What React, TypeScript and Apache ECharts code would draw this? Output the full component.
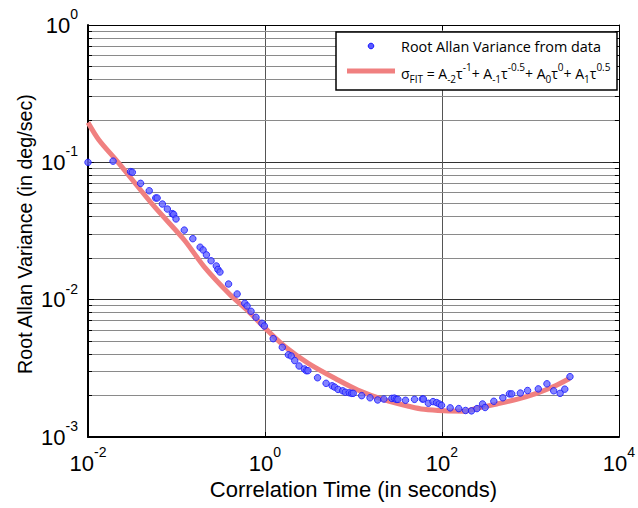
import { useEffect, useRef } from 'react';
import * as echarts from 'echarts';

const X_MIN = 0.01;
const X_MAX = 10000;
const Y_MIN = 0.001;
const Y_MAX = 1;

const X_NAME = 'Correlation Time (in seconds)';
const Y_NAME = 'Root Allan Variance (in deg/sec)';
const LEGEND_DATA = 'Root Allan Variance from data';

const TAU_DATA = [0.01, 0.0192, 0.0303, 0.0317, 0.0393, 0.0492, 0.0583, 0.0605, 0.0693, 0.0789, 0.0898, 0.0929, 0.0988, 0.1225, 0.153, 0.185, 0.2, 0.218, 0.246, 0.282, 0.294, 0.31, 0.388, 0.485, 0.591, 0.628, 0.696, 0.792, 0.925, 0.984, 1.24, 1.57, 1.84, 1.98, 2.17, 2.43, 2.79, 2.93, 3.06, 3.93, 4.91, 5.74, 6.12, 6.7, 7.56, 8.09, 8.97, 9.55, 9.95, 12.4, 15.4, 18.8, 22.1, 27.2, 29.0, 30.5, 31.8, 38.8, 49.0, 60.1, 61.8, 70.3, 79.3, 87.1, 93.3, 99.0, 124, 155, 185, 216, 249, 288, 308, 386, 488, 579, 615, 770, 929, 1228, 1538, 1833, 2168, 2448, 2800];
const ADEV_DATA = [0.1, 0.102, 0.0855, 0.0847, 0.0703, 0.0621, 0.055, 0.055, 0.0497, 0.0457, 0.0423, 0.0418, 0.0387, 0.0321, 0.0278, 0.0241, 0.023, 0.0212, 0.0192, 0.0176, 0.0166, 0.0159, 0.013, 0.011, 0.00941, 0.009, 0.00823, 0.00744, 0.00673, 0.00643, 0.0052, 0.0045, 0.00397, 0.00389, 0.0036, 0.00329, 0.00313, 0.00304, 0.00304, 0.0027, 0.00246, 0.00236, 0.00231, 0.00222, 0.00217, 0.00212, 0.0021, 0.00208, 0.00208, 0.002, 0.00193, 0.00186, 0.00189, 0.00191, 0.00192, 0.00188, 0.00188, 0.00185, 0.00188, 0.00189, 0.00189, 0.00176, 0.00181, 0.00178, 0.00174, 0.0017, 0.00163, 0.00161, 0.00156, 0.00155, 0.00161, 0.00174, 0.00164, 0.00182, 0.00193, 0.00206, 0.00206, 0.00209, 0.00218, 0.00224, 0.00244, 0.00217, 0.00208, 0.00223, 0.00275];

const FIT_TAU = [0.01, 0.01329, 0.0219, 0.0564, 0.1225, 0.205, 0.391, 0.656, 1.01, 1.69, 3.09, 6.7, 11.2, 22.4, 44.5, 62.8, 105, 177, 249, 417, 700, 1172, 1803, 2768];
const FIT_ADEV = [0.195, 0.1454, 0.1, 0.0475, 0.0272, 0.0174, 0.0111, 0.00817, 0.00618, 0.00454, 0.00344, 0.0026, 0.0022, 0.00186, 0.00166, 0.00159, 0.00155, 0.00154, 0.00162, 0.00174, 0.00188, 0.00208, 0.00232, 0.00267];

const DECADES = [0.001, 0.01, 0.1];
const MINOR_MULTIPLIERS = [2, 3, 4, 5, 6, 7, 8, 9];

const FONT = '"Liberation Sans", Arial, sans-serif';
const LEG_FONT = '"Open Sans", sans-serif';

export default function App() {
  const ref = useRef<HTMLDivElement>(null);
  useEffect(() => {
    const chart = echarts.init(ref.current!, null, { renderer: 'svg' });
    const minorY: number[] = [];
    DECADES.forEach((d) => MINOR_MULTIPLIERS.forEach((m) => minorY.push(m * d)));

    const expLabel = (v: number) => `{b|10}{e|${Math.round(Math.log10(v))}}`;
    const rich = {
      b: { fontSize: 22, lineHeight: 36, verticalAlign: 'middle', fontFamily: FONT, color: '#000' },
      e: { fontSize: 14, lineHeight: 36, verticalAlign: 'top', fontFamily: FONT, color: '#000' },
    };
    const crisp = (v: number) => Math.round(v - 0.5) + 0.5;

    const scatterData = TAU_DATA.map((t, i) => [t, ADEV_DATA[i]]);
    const fitData = FIT_TAU.map((t, i) => [t, FIT_ADEV[i]]);

    const lr = { fontSize: 14, lineHeight: 22, verticalAlign: 'middle', fontFamily: LEG_FONT, fill: '#000' };
    const sub = { fontSize: 10, lineHeight: 22, verticalAlign: 'bottom', fontFamily: LEG_FONT, fill: '#000' };
    const sup = { fontSize: 10, lineHeight: 22, verticalAlign: 'top', fontFamily: LEG_FONT, fill: '#000' };
    const formula =
      '{n|σ}{s|FIT}{n| = A}{s|-2}{n|τ}{p|-1}{n|+ A}{s|-1}{n|τ}{p|-0.5}{n|+ A}{s|0}{n|τ}{p|0}{n|+ A}{s|1}{n|τ}{p|0.5}';

    chart.setOption({
      animation: false,
      backgroundColor: '#fff',
      grid: { left: 88, top: 25, right: 15, bottom: 71, show: false },
      xAxis: [
        {
          type: 'log',
          logBase: 10,
          min: X_MIN,
          max: X_MAX,
          interval: 2,
          axisLine: { show: true, lineStyle: { color: '#000', width: 2 } },
          axisTick: { show: true, inside: true, length: 5, lineStyle: { color: '#000' } },
          minorTick: { show: false },
          axisLabel: { formatter: expLabel, rich, margin: 8 },
          splitLine: { show: true, lineStyle: { color: '#555', width: 1 } },
          name: X_NAME,
          nameLocation: 'middle',
          nameGap: 41,
          nameTextStyle: { fontSize: 22, fontFamily: FONT, color: '#000' },
        },
        {
          type: 'log',
          logBase: 10,
          position: 'top',
          min: X_MIN,
          max: X_MAX,
          interval: 2,
          axisLine: { show: true, lineStyle: { color: '#000', width: 1 } },
          axisTick: { show: true, inside: true, length: 5, lineStyle: { color: '#000' } },
          axisLabel: { show: false },
          splitLine: { show: false },
        },
      ],
      yAxis: [
        {
          type: 'log',
          logBase: 10,
          min: Y_MIN,
          max: Y_MAX,
          interval: 1,
          axisLine: { show: true, lineStyle: { color: '#000', width: 2 } },
          axisTick: { show: true, inside: true, length: 6, lineStyle: { color: '#000' } },
          axisLabel: { formatter: expLabel, rich, margin: 10 },
          splitLine: { show: true, lineStyle: { color: '#333', width: 1 } },
        },
        {
          type: 'log',
          logBase: 10,
          position: 'right',
          min: Y_MIN,
          max: Y_MAX,
          interval: 1,
          axisLine: { show: true, lineStyle: { color: '#000', width: 1 } },
          axisTick: { show: true, inside: true, length: 6, lineStyle: { color: '#000' } },
          axisLabel: { show: false },
          splitLine: { show: false },
        },
      ],
      series: [
        {
          type: 'custom',
          xAxisIndex: 0,
          yAxisIndex: 0,
          z: 1,
          silent: true,
          clip: false,
          data: minorY.map((v) => [X_MIN, v]),
          renderItem: (_p: any, api: any) => {
            const v = api.value(1);
            const p0 = api.coord([X_MIN, v]);
            const p1 = api.coord([X_MAX, v]);
            const y = crisp(p0[1]);
            return {
              type: 'group',
              children: [
                { type: 'line', shape: { x1: p0[0], y1: y, x2: p1[0], y2: y }, style: { stroke: '#8a8a8a', lineWidth: 1 } },
                { type: 'line', shape: { x1: p0[0], y1: y, x2: p0[0] + 4, y2: y }, style: { stroke: '#000', lineWidth: 1 } },
                { type: 'line', shape: { x1: p1[0] - 4, y1: y, x2: p1[0], y2: y }, style: { stroke: '#000', lineWidth: 1 } },
              ],
            };
          },
        },
        {
          type: 'line',
          data: fitData,
          z: 2,
          smooth: 0.3,
          showSymbol: false,
          lineStyle: { color: '#f08080', width: 5 },
        },
        {
          type: 'scatter',
          data: scatterData,
          z: 3,
          symbol: 'circle',
          symbolSize: 6.5,
          itemStyle: { color: '#6464ff', borderColor: '#1414ff', borderWidth: 1 },
        },
      ],
      graphic: [
        {
          type: 'text',
          z: 50,
          x: 24.5,
          y: 234,
          rotation: Math.PI / 2,
          style: { text: Y_NAME, fontSize: 19.7, fontFamily: FONT, fill: '#000', align: 'center', verticalAlign: 'middle' },
        },
        { type: 'rect', z: 100, shape: { x: 336, y: 32, width: 281, height: 58 }, style: { fill: '#fff', stroke: '#000', lineWidth: 1.5 } },
        { type: 'circle', z: 101, shape: { cx: 371, cy: 46, r: 2.8 }, style: { fill: '#5a5aff', stroke: '#1414ff', lineWidth: 1 } },
        { type: 'text', z: 101, x: 401, y: 46, style: { text: LEGEND_DATA, fontSize: 14.4, fontFamily: LEG_FONT, fill: '#000', verticalAlign: 'middle' } },
        { type: 'line', z: 101, shape: { x1: 347, y1: 71, x2: 395, y2: 71 }, style: { stroke: '#f08080', lineWidth: 5 } },
        { type: 'text', z: 101, x: 401, y: 73, style: { text: formula, rich: { n: lr, s: sub, p: sup }, verticalAlign: 'middle' } },
      ],
    });
    return () => chart.dispose();
  }, []);
  return <div ref={ref} style={{ position: 'fixed', left: 0, top: 0, width: 638, height: 508 }} />;
}
